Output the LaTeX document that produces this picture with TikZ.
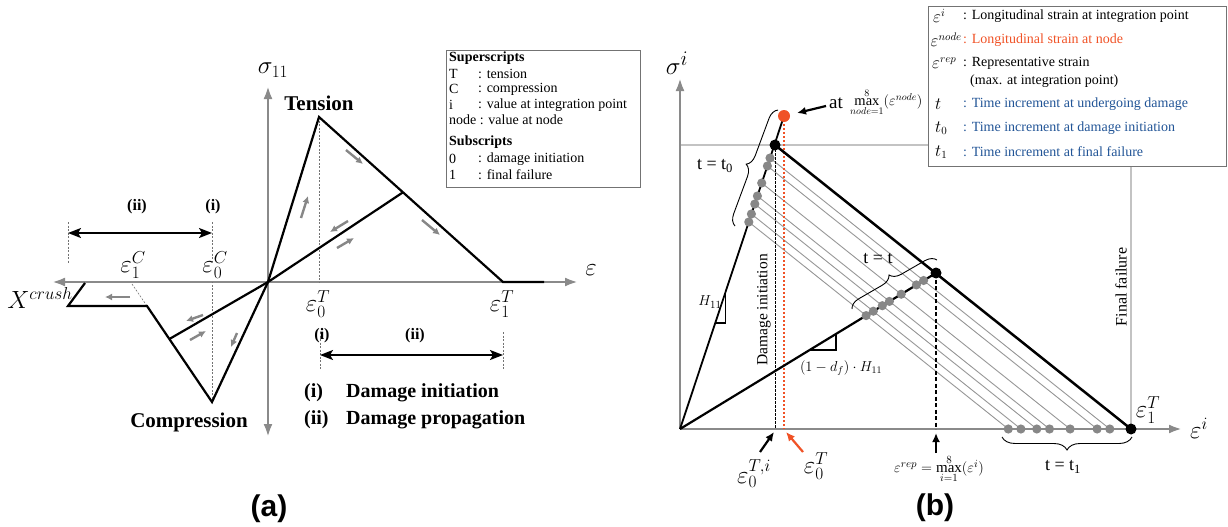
\documentclass[tikz,border=0pt]{standalone}
\usepackage{fontspec}
\setmainfont{Liberation Serif}
\newfontfamily\panelfont{Liberation Sans}
\usetikzlibrary{arrows.meta,decorations.pathreplacing,calc}
\definecolor{axisgray}{RGB}{138,138,138}
\definecolor{arrgray}{RGB}{135,135,135}
\definecolor{guidegray}{RGB}{195,195,195}
\definecolor{thingray}{RGB}{150,150,150}
\definecolor{nodeorange}{RGB}{240,82,38}
\definecolor{legblue}{RGB}{33,84,150}
\newcommand{\fsz}[1]{\fontsize{#1}{#1}\selectfont}
\begin{document}
\begin{tikzpicture}[x=1pt,y=-1pt,
  axisboth/.style={draw=axisgray,line width=2.6pt,{Latex[length=13pt,width=9pt]}-{Latex[length=13pt,width=9pt]}},
  axisone/.style={draw=axisgray,line width=2.6pt,-{Latex[length=13pt,width=9pt]}},
  curve/.style={draw=black,line width=2.2pt,line join=miter},
  garrow/.style={draw=arrgray,line width=2.4pt,-{Latex[length=7pt,width=7pt]}},
  dimarrow/.style={draw=black,line width=2pt,{Stealth[length=13pt,width=10pt,inset=3pt]}-{Stealth[length=13pt,width=10pt,inset=3pt]}},
  guide/.style={draw=black!55,line width=0.6pt,dash pattern=on 2pt off 1.5pt},
  lbl/.style={inner sep=0pt},
  lgA/.style={anchor=west,inner sep=0pt,font=\fsz{14}},
  lgB/.style={anchor=west,inner sep=0pt,font=\fsz{14}},
  lgsym/.style={anchor=west,inner sep=0pt,font=\fsz{16}},
  thinline/.style={draw=thingray,line width=0.9pt},
  bbrace/.style={draw=black,line width=0.9pt,decorate,decoration={brace,amplitude=#1}},
  ptr/.style={line width=2.2pt,-{Latex[length=9pt,width=8pt]}}
]
\useasboundingbox (0,0) rectangle (1228,527);

% ================= panel (a) =================
\coordinate (O1) at (268,282);
\coordinate (TP) at (319,117);
\coordinate (TF) at (503,282);
\coordinate (TE) at (544,282);
\coordinate (TU) at ($(TP)!0.4565!(TF)$);
\coordinate (CP) at (212,402);
\coordinate (CB) at (147,306);
\coordinate (CU) at ($(CP)!0.656!(CB)$);
\coordinate (CX) at (68,306);
\coordinate (CY) at (85,283);
\coordinate (AxL) at (52,282);
\coordinate (AxR) at (578,282);
\coordinate (AxT) at (268,86);
\coordinate (AxB) at (268,437);

\draw[axisboth] (AxL) -- (AxR);
\draw[axisboth] (AxB) -- (AxT);

% guides
\draw[guide] (TP) -- (TP |- O1);
\draw[guide] (CP) -- (CP |- O1);
\coordinate (E1Cfoot) at (132,284);
\draw[guide] (E1Cfoot) -- (CB);
\coordinate (gA1) at (68,222); \coordinate (gA2) at (68,264);
\coordinate (gB1) at (212,222); \coordinate (gB2) at (212,262);
\coordinate (gC1) at (320,332); \coordinate (gC2) at (320,370);
\coordinate (gD1) at (503,332); \coordinate (gD2) at (503,370);
\draw[guide] (gA1) -- (gA2);
\draw[guide] (gB1) -- (gB2);
\draw[guide] (gC1) -- (gC2);
\draw[guide] (gD1) -- (gD2);

% curves
\draw[curve] (O1) -- (TP) -- (TF) -- (TE);
\draw[curve] (O1) -- (TU);
\draw[curve] (O1) -- (CP) -- (CB) -- (CX) -- (CY);
\draw[curve] (O1) -- (CU);

% dimension arrows
\coordinate (dA1) at (68,233); \coordinate (dA2) at (212,233);
\coordinate (dB1) at (320,355); \coordinate (dB2) at (503,355);
\draw[dimarrow] (dA1) -- (dA2);
\draw[dimarrow] (dB1) -- (dB2);

% small gray arrows
\foreach \i/\xa/\ya/\xb/\yb in {1/130/297/105/297, 2/203/315/186/321, 3/190/340/206/331, 4/237/333/231/347,
  5/301/218/308/196, 6/346/150/363/164, 7/422/220/440/235, 8/348/221/330/232, 9/337/248/354/238}{
  \coordinate (ga\i) at (\xa,\ya);
  \coordinate (gb\i) at (\xb,\yb);
  \draw[garrow] (ga\i) -- (gb\i);
}

% labels (a)
\node (sig11) [lbl,font=\fsz{26}] at (273,70) {$\sigma_{11}$};
\node (tens) [lbl,font=\fsz{21}\bfseries] at (319,103) {Tension};
\node (comp) [lbl,font=\fsz{21}\bfseries] at (189,422) {Compression};
\node (epsA) [lbl,font=\fsz{28}] at (591,270) {$\varepsilon$};
\node (e1C) [lbl,font=\fsz{27}] at (133,265) {$\varepsilon_1^C$};
\node (e0C) [lbl,font=\fsz{27}] at (215,265) {$\varepsilon_0^C$};
\node (e0T) [lbl,font=\fsz{27}] at (318,304) {$\varepsilon_0^T$};
\node (e1T) [lbl,font=\fsz{27}] at (502,304) {$\varepsilon_1^T$};
\node (Xc) [lbl,font=\fsz{23}] at (40,298) {$X^{crush}$};
\node (iiA) [lbl,font=\fsz{16}\bfseries] at (137,207) {(ii)};
\node (iA) [lbl,font=\fsz{16}\bfseries] at (213,207) {(i)};
\node (iB) [lbl,font=\fsz{16}\bfseries] at (322,336) {(i)};
\node (iiB) [lbl,font=\fsz{16}\bfseries] at (415,336) {(ii)};
\node (ph1k) [lbl,anchor=west,font=\fsz{20}\bfseries] at (304,393) {(i)};
\node (ph1t) [lbl,anchor=west,font=\fsz{20}\bfseries] at (346,393) {Damage initiation};
\node (ph2k) [lbl,anchor=west,font=\fsz{20}\bfseries] at (304,420) {(ii)};
\node (ph2t) [lbl,anchor=west,font=\fsz{20}\bfseries] at (346,420) {Damage propagation};

% legend (a)
\node (legA) [draw=black!55,line width=0.8pt,anchor=north west,minimum width=194pt,minimum height=137pt,inner sep=0pt] at (446,50) {};
\node (supA) [lgA,font=\fsz{14}\bfseries] at (449,58) {Superscripts};
\node (kT) [lgA] at (449,74) {T};
\node (vT) [lgA] at (478,74) {: tension};
\node (kC) [lgA] at (449,89) {C};
\node (vC) [lgA] at (478,89) {: compression};
\node (ki) [lgA] at (449,105) {i};
\node (vi) [lgA] at (478,105) {: value at integration point};
\node (kn) [lgA] at (449,120) {node : value at node};
\node (subA) [lgA,font=\fsz{14}\bfseries] at (449,142) {Subscripts};
\node (k0) [lgA] at (449,159) {0};
\node (v0) [lgA] at (478,159) {: damage initiation};
\node (k1) [lgA] at (449,175) {1};
\node (v1) [lgA] at (478,175) {: final failure};

\node (labA) [lbl,font=\fsz{30}\panelfont\bfseries] at (269,509) {(a)};

% ================= panel (b) =================
\coordinate (O2) at (680,429);
\coordinate (OR) at (784,116);
\coordinate (BD) at (775,145);
\coordinate (EF) at (1131,429);
\coordinate (MD) at (936,273);
\coordinate (BxT) at (680,78);
\coordinate (BxR) at (1182,429);

% legend (b)
\node (legB) [draw=black!55,line width=0.8pt,anchor=north west,minimum width=298pt,minimum height=160pt,inner sep=0pt] at (928,6) {};

% guide lines
\draw[draw=guidegray,line width=1.4pt] (O2 |- BD) -- (legB.west |- BD);
\draw[draw=guidegray,line width=1.4pt] (EF |- legB.south) -- (EF);

% thin unloading lines and dots
\foreach \k/\rx/\ry/\ax/\lx/\ly in {1/770.0/158/1109.8/923.6/280.5, 2/767.4/166/1097.1/916.4/284.9,
   3/761.7/183/1070.1/901.2/294.2, 4/757.4/196/1049.5/889.4/301.4, 5/754.8/204/1036.8/882.3/305.7,
   6/751.4/214/1020.9/873.3/311.2, 7/748.8/222/1008.3/866.1/315.6}{
  \coordinate (R\k) at (\rx,\ry);
  \coordinate (A\k) at (\ax,429);
  \coordinate (L\k) at (\lx,\ly);
  \draw[thinline] (R\k) -- (A\k);
}

% axes
\draw[axisone] (O2) -- (BxT);
\draw[axisone] (O2) -- (BxR);

% dashed verticals
\draw[black,line width=0.7pt,dash pattern=on 2.5pt off 1.5pt] (BD) -- (BD |- O2);
\draw[nodeorange,line width=2pt,dash pattern=on 2pt off 2pt] (OR) -- (OR |- O2);
\draw[black,line width=1.2pt,dash pattern=on 4pt off 2.5pt] (MD) -- (MD |- O2);

% main lines
\draw[black,line width=1.8pt] (O2) -- (OR);
\draw[black,line width=2.5pt] (BD) -- (EF);
\draw[black,line width=2.2pt] (O2) -- (MD);

% slope triangles
\coordinate (H1) at ($(O2)!0.4345!(OR)$);
\coordinate (H3) at ($(O2)!0.3387!(OR)$);
\draw[black,line width=1.3pt] (H1) -- (H1 |- H3) -- (H3);
\coordinate (D1) at ($(O2)!0.609!(MD)$);
\coordinate (D2) at ($(O2)!0.506!(MD)$);
\draw[black,line width=1.3pt] (D2) -- (D1 |- D2) -- (D1);

% dots
\foreach \k in {1,...,7}{
  \fill[arrgray] (R\k) circle[radius=4.6pt];
  \fill[arrgray] (L\k) circle[radius=4.6pt];
  \fill[arrgray] (A\k) circle[radius=4.6pt];
}
\fill[black] (BD) circle[radius=5.5pt];
\fill[black] (MD) circle[radius=5.5pt];
\fill[black] (EF) circle[radius=5.5pt];
\fill[nodeorange] (OR) circle[radius=6pt];

% braces
\coordinate (brA1) at (735,226); \coordinate (brA2) at (778,110);
\draw[bbrace=11pt] (brA1) -- (brA2);
\coordinate (brB1) at (852,309); \coordinate (brB2) at (937,260);
\draw[bbrace=11pt] (brB1) -- (brB2);
\coordinate (brC1) at (1132,437); \coordinate (brC2) at (1002,437);
\draw[bbrace=13pt] (brC1) -- (brC2);
\node (tt0) [lbl,font=\fsz{18}] at (715,166) {t = t\textsubscript{0}};
\node (ttt) [lbl,font=\fsz{18}] at (878,259) {t = t};
\node (tt1) [lbl,font=\fsz{18}] at (1063,467) {t = t\textsubscript{1}};

% rotated labels
\node (dinit) [lbl,rotate=90,font=\fsz{15.5}] at (764,310) {Damage initiation};
\node (ffail) [lbl,rotate=90,font=\fsz{16}] at (1121,287) {Final failure};

% slope labels
\node (H11) [lbl,font=\fsz{15}] at (710,302) {$H_{11}$};
\node (dfH) [lbl,font=\fsz{14}] at (841,368) {$(1-d_f)\cdot H_{11}$};

% axis labels
\node (sigi) [lbl,font=\fsz{28}] at (677,63) {$\sigma^i$};
\node (epsi) [lbl,font=\fsz{26}] at (1199,428) {$\varepsilon^i$};
\node (e1Tb) [lbl,font=\fsz{24}] at (1148,410) {$\varepsilon_1^T$};

% pointers at bottom
\coordinate (pA0) at (760,452); \coordinate (pA1) at (774,432);
\coordinate (pB0) at (803,452); \coordinate (pB1) at (786,432);
\coordinate (pC0) at (936,453); \coordinate (pC1) at (936,433);
\draw[ptr,black] (pA0) -- (pA1);
\draw[ptr,nodeorange] (pB0) -- (pB1);
\draw[ptr,black] (pC0) -- (pC1);
\node (e0Ti) [lbl,font=\fsz{27}] at (754,474) {$\varepsilon_0^{T,i}$};
\node (e0Tb) [lbl,font=\fsz{27}] at (816,466) {$\varepsilon_0^{T}$};
\node (erep) [lbl,font=\fsz{15}] at (939,469) {$\varepsilon^{rep}=\max\limits_{i=1}^{8}(\varepsilon^{i})$};

% top pointer
\coordinate (pD0) at (826,106); \coordinate (pD1) at (797,113);
\draw[ptr,black] (pD0) -- (pD1);
\node (atw) [lbl,font=\fsz{19}] at (836,103) {at};
\node (maxn) [lbl,anchor=west,font=\fsz{14.5}] at (850,102) {$\max\limits_{node=1}^{8}(\varepsilon^{node})$};

% legend (b) contents
\node (s1) [lgsym] at (933,16) {$\varepsilon^{i}$};
\node (t1) [lgB] at (963,16) {: Longitudinal strain at integration point};
\node (s2) [lgsym,anchor=east] at (962,40) {$\varepsilon^{node}$};
\node (t2) [lgB,text=nodeorange] at (963,40) {: Longitudinal strain at node};
\node (s3) [lgsym] at (932,63) {$\varepsilon^{rep}$};
\node (t3) [lgB] at (963,63) {: Representative strain};
\node (t3b) [lgB] at (970,81) {(max. at integration point)};
\node (s4) [lgsym] at (935,104) {$t$};
\node (t4) [lgB,text=legblue] at (963,104) {: Time increment at undergoing damage};
\node (s5) [lgsym] at (935,128) {$t_0$};
\node (t5) [lgB,text=legblue] at (963,128) {: Time increment at damage initiation};
\node (s6) [lgsym] at (935,152) {$t_1$};
\node (t6) [lgB,text=legblue] at (963,152) {: Time increment at final failure};

\node (labB) [lbl,font=\fsz{30}\panelfont\bfseries] at (935,508) {(b)};
\end{tikzpicture}
\end{document}
